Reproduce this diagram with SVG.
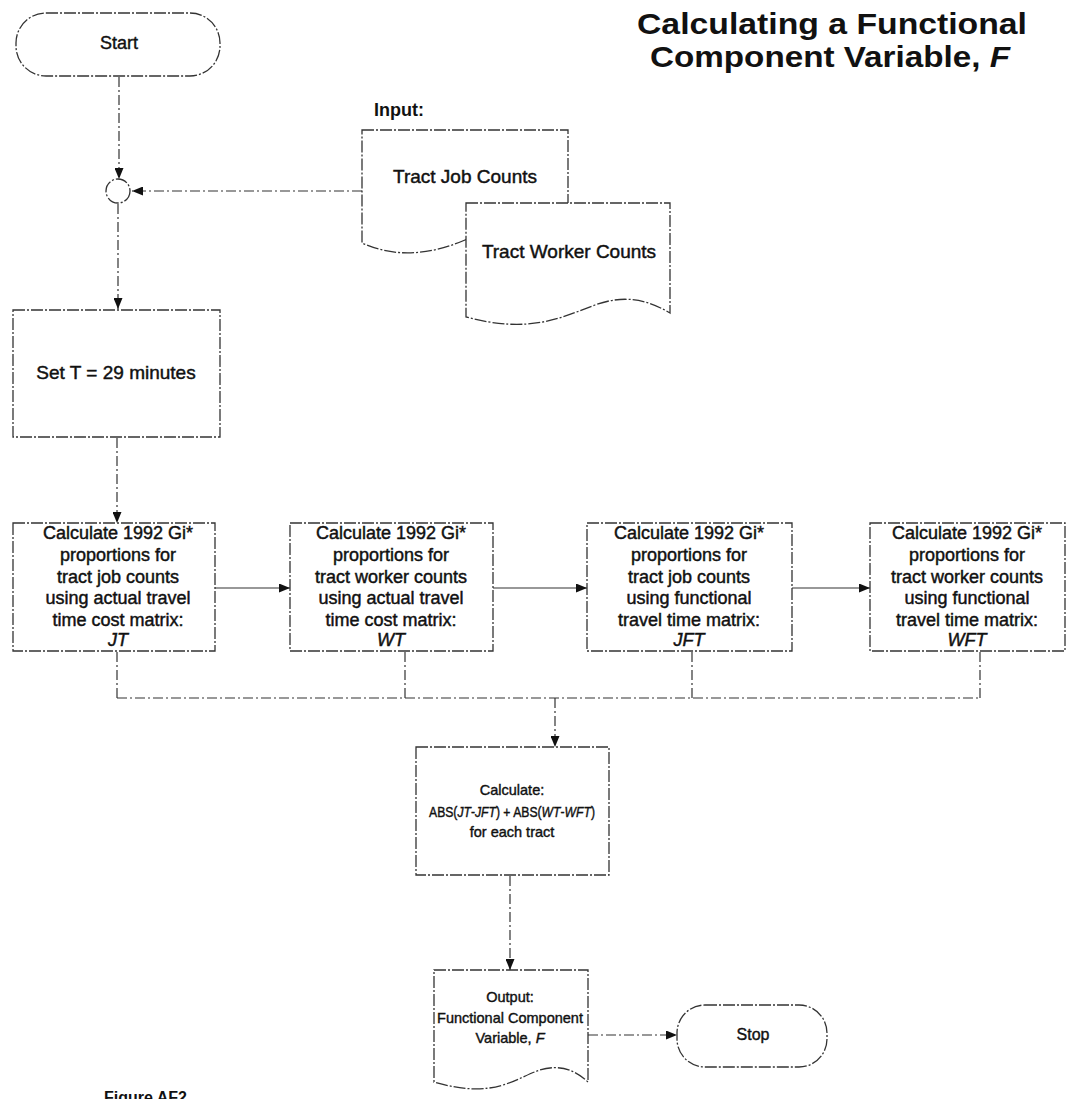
<svg xmlns="http://www.w3.org/2000/svg" width="1081" height="1099" viewBox="0 0 1081 1099">
<defs>
<marker id="arr" markerWidth="11" markerHeight="9" refX="11" refY="4.5" orient="auto" markerUnits="userSpaceOnUse">
<path d="M0,0 L11,4.5 L0,9 Z" fill="#111"/>
</marker>
<style>
.shape{fill:#fff;stroke:#333;stroke-width:1.3;stroke-dasharray:12 2 2 2}
.conn{fill:none;stroke:#333;stroke-width:1.2;stroke-dasharray:10 3 2 3}
.solid{fill:none;stroke:#333;stroke-width:1.2}
text{font-family:"Liberation Sans",Arial,sans-serif;fill:#111;text-anchor:middle}
.t{font-size:18px;stroke:#111;stroke-width:0.45}
.s{font-size:19px;stroke:#111;stroke-width:0.45}
.m{font-size:14.5px;stroke:#111;stroke-width:0.4}
.title{font-size:30px;font-weight:bold}
.lbl{font-size:18px;font-weight:bold}
.i{font-style:italic}
</style>
</defs>
<rect width="1081" height="1099" fill="#fff"/>

<g id="title">
<text class="title" x="832" y="34" textLength="390" lengthAdjust="spacingAndGlyphs">Calculating a Functional</text>
<text class="title" x="830" y="67" textLength="360" lengthAdjust="spacingAndGlyphs">Component Variable, <tspan class="i">F</tspan></text>
</g>

<g id="connectors">
<line class="conn" x1="119" y1="77" x2="119" y2="179" marker-end="url(#arr)"/>
<line class="conn" x1="362" y1="191" x2="132" y2="191" marker-end="url(#arr)"/>
<line class="conn" x1="118" y1="204" x2="118" y2="309" marker-end="url(#arr)"/>
<line class="conn" x1="117" y1="438" x2="117" y2="523" marker-end="url(#arr)"/>
<line class="solid" x1="215" y1="588" x2="290" y2="588" marker-end="url(#arr)"/>
<line class="solid" x1="493" y1="588" x2="587" y2="588" marker-end="url(#arr)"/>
<line class="solid" x1="792" y1="588" x2="870" y2="588" marker-end="url(#arr)"/>
<line class="conn" x1="117" y1="652" x2="117" y2="698"/>
<line class="conn" x1="405" y1="652" x2="405" y2="698"/>
<line class="conn" x1="692" y1="652" x2="692" y2="698"/>
<line class="conn" x1="980" y1="652" x2="980" y2="698"/>
<line class="conn" x1="117" y1="698" x2="980" y2="698"/>
<line class="conn" x1="555" y1="698" x2="555" y2="747" marker-end="url(#arr)"/>
<line class="conn" x1="510" y1="876" x2="510" y2="970" marker-end="url(#arr)"/>
<line class="conn" x1="588" y1="1035" x2="677" y2="1035" marker-end="url(#arr)"/>
</g>

<g id="start">
<rect class="shape" x="16" y="13" width="204" height="63" rx="30" ry="30"/>
<text class="m" x="119" y="49" style="font-size:18px">Start</text>
</g>

<g id="junction">
<circle class="shape" cx="118" cy="191" r="12"/>
</g>

<g id="input-label">
<text class="lbl" x="399" y="116">Input:</text>
</g>

<g id="job-counts">
<path class="shape" d="M362,130 H568 V250 C540,232 500,226 465,240 C430,255 395,258 362,243 Z"/>
<text class="s" x="465" y="183">Tract Job Counts</text>
</g>

<g id="worker-counts">
<path class="shape" d="M466,203 H670 V313 C648,300 625,294 595,305 C560,318 530,334 466,317 Z"/>
<text class="s" x="569" y="258">Tract Worker Counts</text>
</g>

<g id="set-t">
<rect class="shape" x="13" y="310" width="207" height="127"/>
<text class="s" x="116" y="379">Set T = 29 minutes</text>
</g>

<g id="calc-jt">
<rect class="shape" x="13" y="523" width="202" height="128"/>
<text class="t" x="118" y="539">Calculate 1992 Gi*</text>
<text class="t" x="118" y="561">proportions for</text>
<text class="t" x="118" y="583">tract job counts</text>
<text class="t" x="118" y="604">using actual travel</text>
<text class="t" x="118" y="626">time cost matrix:</text>
<text class="t i" x="118" y="646">JT</text>
</g>

<g id="calc-wt">
<rect class="shape" x="290" y="523" width="203" height="128"/>
<text class="t" x="391" y="539">Calculate 1992 Gi*</text>
<text class="t" x="391" y="561">proportions for</text>
<text class="t" x="391" y="583">tract worker counts</text>
<text class="t" x="391" y="604">using actual travel</text>
<text class="t" x="391" y="626">time cost matrix:</text>
<text class="t i" x="391" y="646">WT</text>
</g>

<g id="calc-jft">
<rect class="shape" x="587" y="523" width="205" height="128"/>
<text class="t" x="689" y="539">Calculate 1992 Gi*</text>
<text class="t" x="689" y="561">proportions for</text>
<text class="t" x="689" y="583">tract job counts</text>
<text class="t" x="689" y="604">using functional</text>
<text class="t" x="689" y="626">travel time matrix:</text>
<text class="t i" x="689" y="646">JFT</text>
</g>

<g id="calc-wft">
<rect class="shape" x="870" y="523" width="195" height="128"/>
<text class="t" x="967" y="539">Calculate 1992 Gi*</text>
<text class="t" x="967" y="561">proportions for</text>
<text class="t" x="967" y="583">tract worker counts</text>
<text class="t" x="967" y="604">using functional</text>
<text class="t" x="967" y="626">travel time matrix:</text>
<text class="t i" x="967" y="646">WFT</text>
</g>

<g id="calc-abs">
<rect class="shape" x="416" y="747" width="193" height="128"/>
<text class="m" x="512" y="795">Calculate:</text>
<text class="m" transform="translate(512,817) scale(0.84,1)" x="0" y="0">ABS(<tspan class="i">JT</tspan>-<tspan class="i">JFT</tspan>) + ABS(<tspan class="i">WT</tspan>-<tspan class="i">WFT</tspan>)</text>
<text class="m" x="512" y="837">for each tract</text>
</g>

<g id="output">
<path class="shape" d="M434,970 H588 V1082 C575,1070 560,1064 540,1070 C515,1078 495,1100 434,1082 Z"/>
<text class="m" x="510" y="1002">Output:</text>
<text class="m" x="510" y="1023">Functional Component</text>
<text class="m" x="510" y="1043">Variable, <tspan class="i">F</tspan></text>
</g>

<g id="stop">
<rect class="shape" x="677" y="1005" width="150" height="62" rx="28" ry="28"/>
<text class="m" x="753" y="1040" style="font-size:16px">Stop</text>
</g>

<g id="caption">
<text class="lbl" x="104" y="1103" style="text-anchor:start;font-size:16px">Figure AF2</text>
</g>
</svg>
